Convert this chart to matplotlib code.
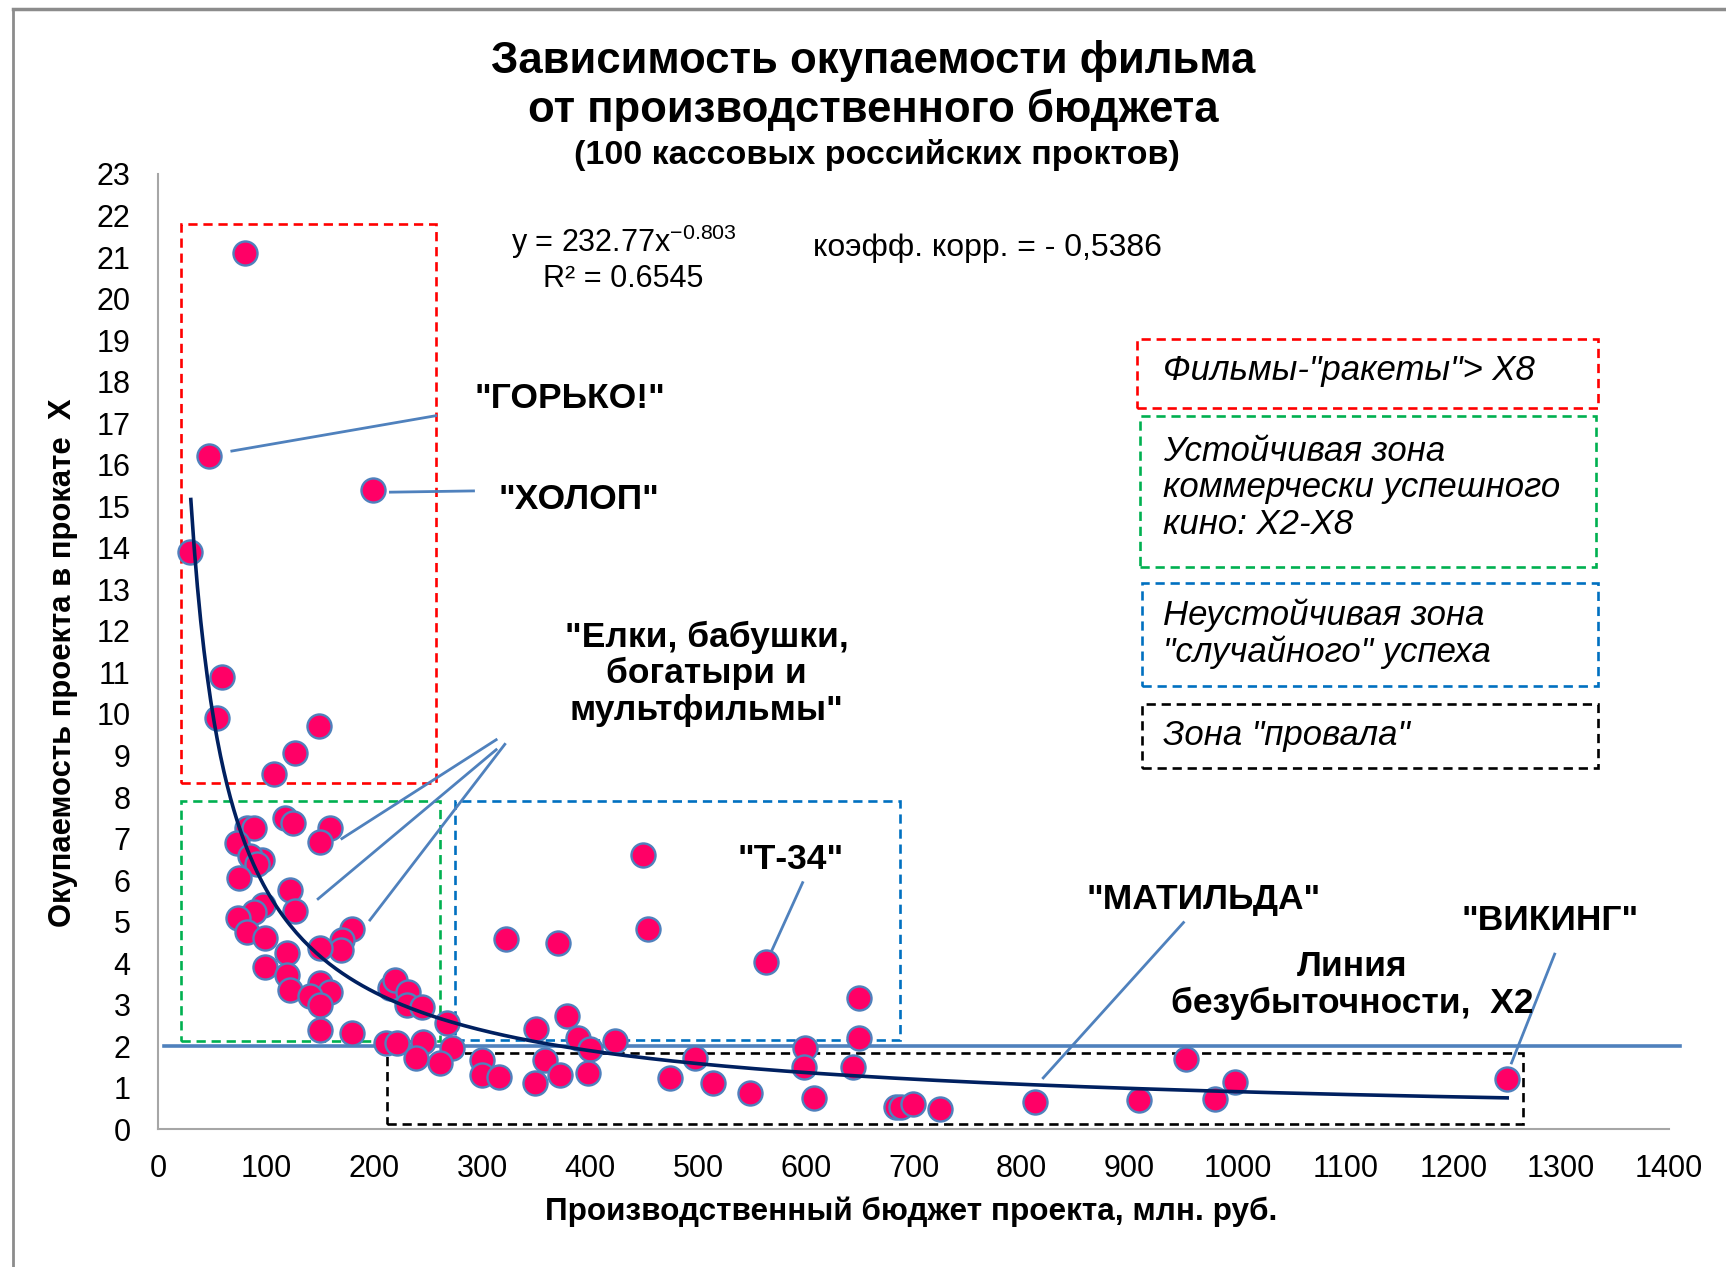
import numpy as np
import matplotlib
matplotlib.use("Agg")
import matplotlib.pyplot as plt
from matplotlib.patches import Rectangle
from matplotlib.lines import Line2D

plt.rcParams['font.family'] = ['Liberation Sans', 'DejaVu Sans']
plt.rcParams['mathtext.fontset'] = 'custom'
plt.rcParams['mathtext.rm'] = 'Liberation Sans'
plt.rcParams['mathtext.it'] = 'Liberation Sans:italic'

# бюджет, млн руб.
budget = [80, 47, 199, 29, 59, 54, 149, 127, 107, 82, 89, 117, 125, 159, 150, 73, 96, 85, 91, 75,
          122, 127, 97, 89, 74, 82, 99, 179, 170, 169, 150, 119, 99, 119, 122, 150, 159, 140, 150, 150,
          179, 215, 219, 231, 230, 244, 267, 211, 221, 245, 272, 239, 261, 300, 300, 449, 454, 322, 370, 563,
          649, 649, 599, 598, 644, 608, 684, 379, 350, 389, 400, 423, 358, 372, 398, 349, 316, 474, 497, 514,
          548, 688, 699, 724, 812, 909, 952, 979, 998, 1250]
# окупаемость, X
payback = [21.1, 16.2, 15.4, 13.9, 10.9, 9.9, 9.7, 9.06, 8.56, 7.25, 7.25, 7.5, 7.38, 7.25, 6.93, 6.9, 6.48, 6.57, 6.4, 6.06,
           5.76, 5.26, 5.40, 5.24, 5.1, 4.74, 4.6, 4.82, 4.56, 4.32, 4.36, 4.24, 3.92, 3.72, 3.36, 3.52, 3.31, 3.2, 3.0, 2.39,
           2.31, 3.40, 3.6, 3.31, 3.0, 2.95, 2.55, 2.07, 2.07, 2.11, 1.95, 1.71, 1.59, 1.67, 1.31, 6.6, 4.82, 4.58, 4.49, 4.04,
           3.16, 2.19, 1.95, 1.51, 1.51, 0.75, 0.55, 2.73, 2.41, 2.19, 1.93, 2.14, 1.67, 1.31, 1.35, 1.11, 1.27, 1.23, 1.71, 1.11,
           0.88, 0.55, 0.61, 0.49, 0.65, 0.71, 1.69, 0.73, 1.15, 1.21]

# степенной тренд из подписи
trend_a = 232.77
trend_b = -0.803
trend_range = (30, 1250)
breakeven = 2

x_ticks = list(range(0, 1401, 100))
y_ticks = list(range(0, 24))

# зоны (x0, x1, y0, y1) в единицах данных
zones = [
    ('#FF0000', 21, 257, 8.35, 21.8),
    ('#00B050', 21, 261, 2.12, 7.9),
    ('#0070C0', 275, 687, 2.15, 7.9),
    ('#000000', 212, 1265, 0.13, 1.83),
]

fig = plt.figure(figsize=(17.26, 12.67), dpi=100)
ax = fig.add_axes([0.0918, 0.1086, 0.8752, 0.7541])

# рамка области диаграммы
fig.add_artist(Line2D([0.0077, 0.0077], [-0.1, 0.993], color='#8c8c8c', lw=2))
fig.add_artist(Line2D([0.0077, 1.1], [0.993, 0.993], color='#8c8c8c', lw=2.5))

dash = (0, (3.5, 2.2))
for col, x0, x1, y0, y1 in zones:
    ax.add_patch(Rectangle((x0, y0), x1 - x0, y1 - y0, fill=False, edgecolor=col,
                           lw=1.9, ls=dash, zorder=2))

ax.plot([0.004, 1.007], [breakeven, breakeven], color='#4F81BD', lw=2.6,
        transform=ax.get_yaxis_transform(), clip_on=False, zorder=2)

ax.scatter(budget, payback, s=300, c='#FF0066', edgecolors='#4F81BD', linewidths=1.7, zorder=3)

tx = np.linspace(trend_range[0], trend_range[1], 400)
ax.plot(tx, trend_a * tx ** trend_b, color='#002060', lw=2.6, zorder=4)

ax.set_xlim(0, 1400)
ax.set_ylim(0, 23)
ax.set_xticks(x_ticks)
ax.set_yticks(y_ticks)
ax.tick_params(length=0, labelsize=22)
ax.tick_params(axis='y', pad=20)
ax.tick_params(axis='x', pad=18)
for s in ['top', 'right']:
    ax.spines[s].set_visible(False)
for s in ['left', 'bottom']:
    ax.spines[s].set_color('#a6a6a6')
    ax.spines[s].set_linewidth(1.5)

fig.text(0.506, 0.952, 'Зависимость окупаемости фильма', ha='center', va='center',
         fontsize=31.5, fontweight='bold')
fig.text(0.506, 0.913, 'от производственного бюджета', ha='center', va='center',
         fontsize=31.5, fontweight='bold')
fig.text(0.508, 0.878, '(100 кассовых российских проктов)', ha='center', va='center',
         fontsize=24.5, fontweight='bold')
fig.text(0.0363, 0.477, 'Окупаемость проекта в прокате  X', rotation=90, ha='center', va='center',
         fontsize=22.3, fontweight='bold')
fig.text(0.528, 0.0434, 'Производственный бюджет проекта, млн. руб.', ha='center', va='center',
         fontsize=22.7, fontweight='bold')

ax.text(431, 21.36, r'y = 232.77x$^{\mathregular{-0.803}}$', ha='center', va='center', fontsize=22)
ax.text(431, 20.48, 'R² = 0.6545', ha='center', va='center', fontsize=22)
ax.text(768, 21.22, 'коэфф. корр. = - 0,5386', ha='center', va='center', fontsize=23)

lbl = dict(ha='center', va='center', fontsize=25.5, fontweight='bold')
ax.text(381, 17.59, '"ГОРЬКО!"', **lbl)
ax.text(390, 15.16, '"ХОЛОП"', **lbl)
ax.text(508, 10.97, '"Елки, бабушки,\nбогатыри и\nмультфильмы"', linespacing=1.13, **lbl)
ax.text(586, 6.49, '"Т-34"', **lbl)
ax.text(969, 5.54, '"МАТИЛЬДА"', **lbl)
ax.text(1290, 5.03, '"ВИКИНГ"', **lbl)
ax.text(1106, 3.48, 'Линия\nбезубыточности,  X2', linespacing=1.13, **lbl)

# выноски (x0, y0, x1, y1)
leaders = [
    (68, 16.33, 257, 17.18),
    (215, 15.34, 292, 15.37),
    (170, 7.0, 313, 9.38),
    (148, 5.55, 313, 9.14),
    (196, 5.04, 321, 9.27),
    (597, 5.94, 568, 4.28),
    (950, 4.98, 820, 1.24),
    (1294, 4.22, 1254, 1.6),
]
for x0, y0, x1, y1 in leaders:
    ax.plot([x0, x1], [y0, y1], color='#4F81BD', lw=2, zorder=2, clip_on=False)

# легенда зон в координатах рисунка
legend_boxes = [
    ('#FF0000', 0.659, 0.926, 0.678, 0.7324, 0.7072, 'Фильмы-"ракеты"> X8'),
    ('#00B050', 0.6606, 0.9248, 0.5525, 0.6717, 0.6151, 'Устойчивая зона\nкоммерчески успешного\nкино: X2-X8'),
    ('#0070C0', 0.6614, 0.926, 0.4587, 0.5395, 0.5, 'Неустойчивая зона\n"случайного" успеха'),
    ('#000000', 0.6614, 0.926, 0.3935, 0.444, 0.4196, 'Зона "провала"'),
]
for col, x0, x1, y0, y1, ty, txt in legend_boxes:
    fig.add_artist(Rectangle((x0, y0), x1 - x0, y1 - y0, fill=False, edgecolor=col,
                             lw=1.9, ls=dash, transform=fig.transFigure))
    fig.text(0.674, ty, txt, ha='left', va='center', fontsize=25, fontstyle='italic',
             linespacing=1.13)

fig.savefig('out.png', dpi=100)
